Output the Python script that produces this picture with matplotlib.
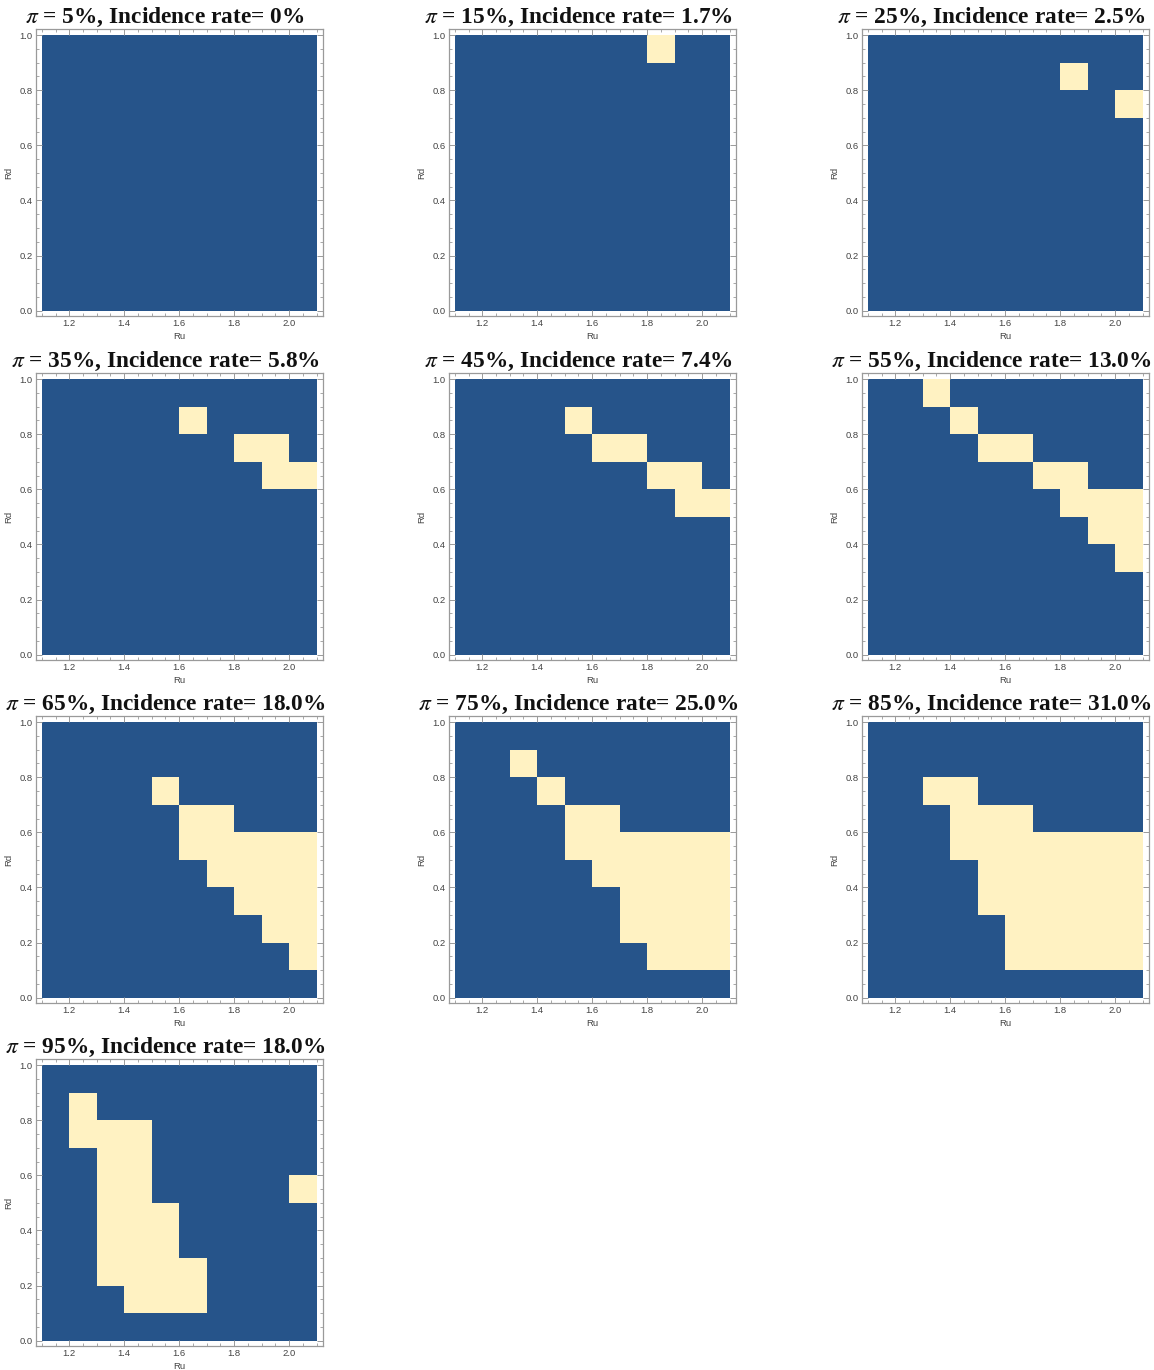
import numpy as np
import matplotlib
matplotlib.use("Agg")
import matplotlib.pyplot as plt
from matplotlib.colors import ListedColormap
from matplotlib.ticker import MultipleLocator, FormatStrFormatter

# ---------------- data ----------------
pi_values = [5, 15, 25, 35, 45, 55, 65, 75, 85, 95]
incidence_labels = ["0%", "1.7%", "2.5%", "5.8%", "7.4%", "13.0%", "18.0%", "25.0%", "31.0%", "18.0%"]

ru_edges = [1.1, 1.2, 1.3, 1.4, 1.5, 1.6, 1.7, 1.8, 1.9, 2.0, 2.1]
rd_edges = [0.0, 0.1, 0.2, 0.3, 0.4, 0.5, 0.6, 0.7, 0.8, 0.9, 1.0]

# each grid: rows listed from top (Rd 0.9-1.0) to bottom (Rd 0.0-0.1);
# columns from Ru 1.1-1.2 (left) to Ru 2.0-2.1 (right); 1 = incidence region
grid_pi05 = ["0000000000", "0000000000", "0000000000", "0000000000", "0000000000",
             "0000000000", "0000000000", "0000000000", "0000000000", "0000000000"]
grid_pi15 = ["0000000100", "0000000000", "0000000000", "0000000000", "0000000000",
             "0000000000", "0000000000", "0000000000", "0000000000", "0000000000"]
grid_pi25 = ["0000000000", "0000000100", "0000000001", "0000000000", "0000000000",
             "0000000000", "0000000000", "0000000000", "0000000000", "0000000000"]
grid_pi35 = ["0000000000", "0000010000", "0000000110", "0000000011", "0000000000",
             "0000000000", "0000000000", "0000000000", "0000000000", "0000000000"]
grid_pi45 = ["0000000000", "0000100000", "0000011000", "0000000110", "0000000011",
             "0000000000", "0000000000", "0000000000", "0000000000", "0000000000"]
grid_pi55 = ["0010000000", "0001000000", "0000110000", "0000001100", "0000000111",
             "0000000011", "0000000001", "0000000000", "0000000000", "0000000000"]
grid_pi65 = ["0000000000", "0000000000", "0000100000", "0000011000", "0000011111",
             "0000001111", "0000000111", "0000000011", "0000000001", "0000000000"]
grid_pi75 = ["0000000000", "0010000000", "0001000000", "0000110000", "0000111111",
             "0000011111", "0000001111", "0000001111", "0000000111", "0000000000"]
grid_pi85 = ["0000000000", "0000000000", "0011000000", "0001110000", "0001111111",
             "0000111111", "0000111111", "0000011111", "0000011111", "0000000000"]
grid_pi95 = ["0000000000", "0100000000", "0111000000", "0011000000", "0011000001",
             "0011100000", "0011100000", "0011110000", "0001110000", "0000000000"]

grids = [grid_pi05, grid_pi15, grid_pi25, grid_pi35, grid_pi45,
         grid_pi55, grid_pi65, grid_pi75, grid_pi85, grid_pi95]

# ---------------- style ----------------
BLUE = "#26548a"
YELLOW = "#fff2c2"
FRAME = "#9a9a9a"
TICKLAB = "#444444"

plt.rcParams["mathtext.fontset"] = "stix"
plt.rcParams["font.family"] = ["Liberation Sans", "DejaVu Sans"]

W, H = 1154, 1370
fig = plt.figure(figsize=(W / 100, H / 100), dpi=100)
fig.patch.set_facecolor("white")

col_left = [36, 449, 862]
row_top = [29, 373, 716, 1059]
aw, ah = 287, 287

cmap = ListedColormap([BLUE, YELLOW])

for i, (grid, p, inc) in enumerate(zip(grids, pi_values, incidence_labels)):
    r, c = divmod(i, 3)
    left = col_left[c] / W
    bottom = 1 - (row_top[r] + ah) / H
    ax = fig.add_axes([left, bottom, aw / W, ah / H])
    Z = np.array([[int(ch) for ch in row] for row in grid[::-1]])
    ax.pcolormesh(ru_edges, rd_edges, Z, cmap=cmap, vmin=0, vmax=1,
                  shading="flat", edgecolors="none", antialiased=False)
    ax.set_xlim(1.079, 2.123)
    ax.set_ylim(-0.019, 1.022)
    ax.xaxis.set_major_locator(MultipleLocator(0.2))
    ax.xaxis.set_minor_locator(MultipleLocator(0.05))
    ax.yaxis.set_major_locator(MultipleLocator(0.2))
    ax.yaxis.set_minor_locator(MultipleLocator(0.05))
    ax.xaxis.set_major_formatter(FormatStrFormatter("%.1f"))
    ax.yaxis.set_major_formatter(FormatStrFormatter("%.1f"))
    ax.tick_params(which="both", direction="in", top=True, right=True,
                   color=FRAME, labelcolor=TICKLAB, labelsize=6.8, pad=2.5)
    ax.tick_params(which="major", length=4, width=0.7)
    ax.tick_params(which="minor", length=2, width=0.6)
    for s in ax.spines.values():
        s.set_color(FRAME)
        s.set_linewidth(0.9)
    ax.set_xlabel("Ru", fontsize=6.8, color=TICKLAB, labelpad=2.5)
    ax.set_ylabel("Rd", fontsize=6.8, color=TICKLAB, labelpad=4)
    ax.text(0.45, 1.022, r"$\pi$" + f" = {p}%, Incidence rate= {inc}",
            transform=ax.transAxes, ha="center", va="baseline",
            fontsize=16.8, fontweight="bold", family="Liberation Serif", color="#111111")

fig.savefig("out.png", dpi=100, facecolor="white")
